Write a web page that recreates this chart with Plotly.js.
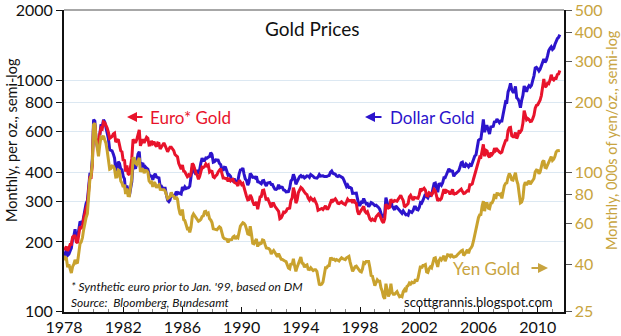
<!DOCTYPE html>
<html>
<head>
<meta charset="utf-8">
<script src="https://cdn.plot.ly/plotly-3.0.1.min.js"></script>
<style>
html,body{margin:0;padding:0;background:#fff;}
#chart{width:621px;height:336px;}
</style>
</head>
<body>
<div id="chart"></div>
<script>
// Monthly series starting Jan 1978
const startYear = 1978;
const startMonth = 1;

// Dollar gold, $/oz (monthly)
const dollarGold = [
173,178,184,175,177,183,188,206,212,227,206,208,
227,245,242,239,257,279,294,301,355,392,392,456,
675,665,554,517,514,600,644,627,674,661,623,594,
558,500,498,495,480,461,409,410,444,437,413,410,
384,374,330,350,334,315,339,364,436,422,414,445,
480,491,420,432,438,413,422,416,412,394,382,388,
371,387,394,381,378,378,347,348,341,340,341,320,
303,299,304,325,316,317,317,330,323,326,325,322,
345,339,346,340,342,343,348,376,418,423,398,391,
408,401,409,438,460,450,450,461,460,465,467,486,
477,442,444,452,451,451,437,432,413,406,420,419,
404,388,390,384,371,367,375,365,362,367,394,409,
410,417,393,374,369,352,362,395,389,380,381,378,
384,364,363,358,357,367,368,356,349,359,360,361,
354,354,345,338,337,340,353,343,345,344,335,334,
329,330,330,342,367,372,392,379,355,364,374,383,
387,382,384,378,381,386,385,380,391,389,384,379,
379,377,382,391,385,387,386,383,383,383,386,387,
400,405,396,393,392,385,383,387,383,381,378,369,
355,347,352,344,344,341,324,324,323,325,306,289,
289,297,296,308,299,292,293,284,289,296,294,291,
287,288,286,282,277,262,256,257,265,311,293,283,
285,300,286,280,275,286,282,275,274,270,266,272,
266,262,263,261,272,270,268,273,283,283,276,275,
282,296,294,302,314,322,314,310,319,317,319,333,
357,359,340,328,355,356,351,360,379,379,390,407,
414,405,406,404,384,392,398,400,406,420,439,442,
424,423,434,429,422,431,424,438,456,470,476,510,
549,555,557,610,676,596,633,632,598,585,627,629,
631,665,655,679,667,655,665,665,712,754,806,803,
889,922,968,909,888,889,939,839,829,806,760,816,
858,943,924,890,928,946,934,949,996,1043,1127,1134,
1118,1095,1113,1148,1205,1233,1193,1215,1271,1342,1370,1391,
1356,1372,1424,1473,1510,1529,1572
];

// Euro* gold, euros/oz (monthly)
const euroGold = [
185,187,191,183,188,195,195,210,212,212,200,198,
216,233,230,232,252,270,280,290,340,380,380,430,
640,635,565,530,510,585,620,615,660,655,640,620,
595,560,565,570,585,590,540,545,555,525,495,490,
448,453,402,428,394,390,425,460,555,546,536,553,
589,610,520,539,555,536,557,566,560,524,525,546,
533,542,524,516,535,533,504,514,527,535,521,502,
490,503,513,513,502,496,477,471,466,437,425,412,
430,404,402,391,383,389,382,396,436,430,407,396,
388,373,383,405,421,419,423,434,426,430,401,405,
403,382,379,386,390,401,411,415,395,378,378,375,
376,365,373,367,372,373,362,358,357,349,369,364,
354,358,343,323,315,304,305,319,312,299,290,290,
298,277,299,313,314,334,335,317,302,310,298,288,
282,293,293,285,279,276,271,252,254,260,269,268,
271,278,278,280,302,310,343,327,294,303,327,337,
344,340,332,328,323,320,309,303,310,304,302,306,
296,289,274,276,278,279,276,280,286,278,278,285,
298,305,300,303,307,301,294,293,296,298,294,293,
290,298,306,301,302,302,295,305,296,293,271,263,
269,275,277,285,271,267,270,260,251,248,251,248,
247,257,262,264,261,252,246,242,252,291,284,280,
282,306,298,298,302,301,300,306,315,318,309,302,
283,285,289,293,313,318,312,303,311,311,310,309,
320,340,334,339,341,335,317,316,326,323,319,326,
337,332,315,301,306,304,308,324,338,324,333,331,
329,321,330,337,320,324,324,328,333,336,338,330,
324,325,329,333,332,353,353,356,374,392,403,429,
454,466,464,496,528,469,498,494,471,464,486,477,
485,508,496,503,494,489,485,489,512,531,548,550,
605,623,625,575,569,570,594,559,576,606,598,609,
650,737,705,674,682,676,662,664,682,705,756,777,
782,799,818,857,956,1011,932,942,970,965,1000,1054,
1012,1001,1017,1016,1056,1062,1099
];

// Yen gold, 000s of yen/oz (monthly)
const yenGold = [
41.7,42.9,42.5,38.9,40.0,38.4,36.7,39.1,40.1,41.8,40.6,40.8,
44.5,49.2,49.9,52.1,56.5,60.8,63.8,66.2,79.5,92.9,96.8,109.4,
160.7,162.9,137.9,129.3,117.2,130.8,141.7,140.4,143.6,138.1,133.3,124.1,
112.7,103.0,103.6,106.4,106.1,103.3,95.3,95.5,102.1,101.4,91.7,89.8,
86.4,88.3,80.5,85.1,79.2,79.1,86.4,94.3,114.7,114.8,109.3,108.1,
111.8,115.4,100.4,102.8,102.9,99.1,101.7,101.5,100.1,91.8,90.2,90.8,
86.4,90.6,89.4,85.7,87.3,88.1,84.3,84.2,83.5,84.0,82.9,79.0,
77.0,77.7,78.4,81.9,79.3,78.9,76.4,78.2,76.6,70.1,66.3,65.4,
69.0,62.4,61.9,59.5,57.1,57.3,55.0,57.9,64.4,66.0,64.9,63.3,
62.8,61.4,61.8,62.6,64.4,64.8,67.5,67.8,65.8,66.5,63.0,62.2,
60.6,57.0,56.8,56.5,56.4,57.3,58.1,57.5,55.3,52.4,51.7,51.5,
51.3,49.7,51.1,51.1,51.2,52.5,52.9,51.5,52.5,52.1,56.3,58.5,
59.5,60.5,60.1,59.1,56.8,54.2,53.9,58.5,54.1,49.4,49.1,50.3,
51.5,47.7,49.7,49.0,49.3,51.0,50.8,48.8,47.1,47.0,46.8,46.2,
44.3,45.3,45.9,45.0,44.1,43.2,44.5,43.2,42.1,42.0,41.5,41.4,
41.1,39.9,38.6,38.3,40.4,39.8,42.3,39.4,37.3,38.9,40.4,42.1,
43.0,40.5,40.3,38.9,39.6,39.8,38.1,38.0,38.7,38.1,37.6,37.9,
37.9,37.3,34.8,32.8,32.7,32.9,33.6,36.0,38.7,38.7,39.4,39.5,
42.4,42.5,42.0,42.1,41.6,42.0,41.7,41.4,42.1,42.7,42.3,42.1,
41.9,42.7,42.9,43.3,40.9,38.9,37.3,38.2,39.1,39.3,38.6,37.6,
37.3,37.1,38.2,40.7,40.4,41.2,41.3,41.2,38.7,35.8,35.6,34.0,
32.4,33.4,34.3,33.8,33.8,31.7,30.7,29.0,28.4,33.0,30.8,29.1,
29.9,33.0,30.3,29.7,29.7,30.3,30.5,29.7,29.0,29.2,29.0,30.5,
31.1,30.4,32.1,32.4,33.2,32.9,33.5,33.3,33.4,34.5,33.7,34.9,
37.5,39.4,38.5,39.6,39.6,39.9,37.1,36.9,38.3,39.0,38.6,40.6,
42.5,42.7,40.5,39.0,41.5,42.4,41.8,42.5,43.6,41.3,42.5,44.0,
43.9,43.3,44.3,43.2,43.0,43.1,43.4,44.0,44.7,45.4,45.7,46.0,
43.7,44.4,45.6,46.3,44.7,46.5,47.1,48.2,50.6,53.6,56.6,60.7,
63.7,65.5,65.7,71.4,75.0,67.9,73.4,73.3,70.0,69.6,73.4,73.6,
75.7,80.5,76.6,80.8,80.7,79.9,80.5,77.1,82.6,87.5,89.5,89.9,
95.1,98.7,96.8,92.7,92.4,95.1,99.5,92.3,88.7,80.6,73.7,74.3,
77.2,87.7,90.6,88.1,90.0,91.8,88.7,90.2,91.6,93.9,100.3,102.1,
101.7,98.6,100.2,107.9,110.9,112.2,105.0,104.5,108.0,110.0,113.7,116.8,
112.5,113.9,116.8,122.3,123.8,123.8,124.2
];

const leftTicks = [100,200,300,400,600,800,1000,2000];
const rightTicks = [25,40,60,80,100,200,300,400,500];
const yearTicks = [1978,1982,1986,1990,1994,1998,2002,2006,2010];

function monthDates(n){
  const out = [];
  let y = startYear, m = startMonth;
  for (let i = 0; i < n; i++){
    out.push(y + '-' + String(m).padStart(2,'0') + '-01');
    m++; if (m > 12){ m = 1; y++; }
  }
  return out;
}

const BLUE = '#2c14cc';
const RED = '#e8132b';
const GOLD = '#c9a22e';
const GOLDTXT = '#c8a440';
const FONT = 'Lato, "DejaVu Sans", sans-serif';
const EPS = 0.0015;

const traces = [
  {x: monthDates(dollarGold.length), y: dollarGold, type:'scatter', mode:'lines',
   line:{color:BLUE, width:3}, yaxis:'y', hoverinfo:'skip'},
  {x: monthDates(euroGold.length), y: euroGold, type:'scatter', mode:'lines',
   line:{color:RED, width:3}, yaxis:'y', hoverinfo:'skip'},
  {x: monthDates(yenGold.length), y: yenGold, type:'scatter', mode:'lines',
   line:{color:GOLD, width:3}, yaxis:'y2', hoverinfo:'skip'}
];

function px2x(p){ return (p-64)/500; }
function px2y(p){ return (312-p)/302; }

function label(text, px, py, size, color, xanchor, extra){
  return Object.assign({text:text, xref:'paper', yref:'paper', x:px2x(px), y:px2y(py),
    xanchor:xanchor||'center', yanchor:'middle', showarrow:false,
    font:{family:FONT, size:size, color:color}}, extra||{});
}
function arrow(headPx, py, dx, color){
  return {text:'', xref:'paper', yref:'paper', x:px2x(headPx), y:px2y(py), ax:dx, ay:0,
    showarrow:true, arrowhead:2, arrowsize:1, arrowwidth:2, arrowcolor:color};
}

const annotations = [
  label('Gold Prices', 312, 29, 19, '#111'),
  label('Monthly, per oz., semi-log', 11, 140, 14.5, '#111', 'center', {textangle:-90}),
  label('Monthly, 000s of yen/oz., semi-log', 611, 140, 14.5, GOLDTXT, 'center', {textangle:-90}),
  label('Euro* Gold', 148, 117, 17, RED, 'left'),
  arrow(127, 117, 17, RED),
  label('Dollar Gold', 388, 117, 17, BLUE, 'left'),
  arrow(365, 117, 18, BLUE),
  label('Yen Gold', 451, 268, 17, GOLDTXT, 'left'),
  arrow(548, 268, -18, GOLDTXT),
  label("<i>* Synthetic euro prior to Jan. '99, based on DM</i>", 69, 286, 12, '#111', 'left'),
  label('<i>Source:  Bloomberg, Bundesamt</i>', 69, 302, 12, '#111', 'left'),
  label('scottgrannis.blogspot.com', 555, 302, 13, '#111', 'right')
];

const layout = {
  width:621, height:336,
  margin:{l:64, r:57, t:10, b:24, pad:0},
  paper_bgcolor:'#fff', plot_bgcolor:'#fff',
  showlegend:false,
  font:{family:FONT, size:16, color:'#111'},
  xaxis:{
    type:'date',
    range:['1978-01-01','2011-10-12'],
    tickvals: yearTicks.map(y => y + '-01-01'),
    ticktext: yearTicks.map(String),
    ticks:'inside', ticklen:5, tickcolor:'#111', tickwidth:1,
    ticklabelstandoff:0, ticklabeloverflow:'allow',
    showgrid:false, zeroline:false,
    showline:true, linecolor:'#111', linewidth:1.5,
    tickfont:{family:FONT, size:16, color:'#111'},
    automargin:false,
    minor:{dtick:'M12', ticks:'inside', ticklen:3, tickcolor:'#888', showgrid:false}
  },
  yaxis:{
    type:'log',
    range:[Math.log10(100)-EPS, Math.log10(2000)+EPS],
    tickvals:leftTicks, ticktext:leftTicks.map(String),
    ticks:'outside', ticklen:6, tickcolor:'#111',
    ticklabeloverflow:'allow',
    showgrid:true, gridcolor:'#dce8f2', gridwidth:1,
    zeroline:false, showline:true, linecolor:'#111', linewidth:2,
    tickfont:{family:FONT, size:16, color:'#111'},
    automargin:false
  },
  yaxis2:{
    type:'log', overlaying:'y', side:'right',
    range:[Math.log10(25)-EPS, Math.log10(500)+EPS],
    tickvals:rightTicks, ticktext:rightTicks.map(String),
    ticks:'outside', ticklen:6, tickcolor:'#555',
    ticklabeloverflow:'allow',
    showgrid:false, zeroline:false, showline:true, linecolor:'#111', linewidth:1.5,
    tickfont:{family:FONT, size:16, color:GOLDTXT},
    automargin:false
  },
  shapes:[
    {type:'line', xref:'paper', yref:'paper', x0:0, x1:1, y0:1, y1:1,
     line:{color:'#8a8a8a', width:1.5}}
  ],
  annotations: annotations
};

Plotly.newPlot('chart', traces, layout, {displayModeBar:false, staticPlot:true});
</script>
</body>
</html>
